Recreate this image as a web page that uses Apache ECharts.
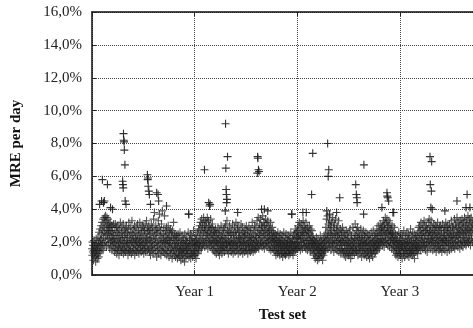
<!DOCTYPE html>
<html>
<head>
<meta charset="utf-8">
<script src="https://cdn.jsdelivr.net/npm/echarts@6/dist/echarts.min.js"></script>
<style>
  html, body { margin: 0; padding: 0; background: #fff; }
  #main { width: 473px; height: 328px; }
</style>
</head>
<body>
<div id="main"></div>
<script>
// MRE per day (%), one value per day of the test set
var year1 = [
  1.6,1.2,2.0,1.4,1.8,0.9,1.5,2.1,1.3,1.7,1.1,1.9,1.4,0.8,1.6,2.2,1.2,1.8,1.5,1.0,
  1.7,2.3,1.3,1.9,1.1,2.6,1.5,2.0,2.8,1.4,2.2,1.8,3.0,1.6,2.5,2.1,3.2,1.9,2.7,1.5,
  3.4,2.3,2.9,1.8,3.5,2.6,3.1,2.0,3.6,2.4,3.3,1.7,2.8,3.5,2.2,3.0,2.5,3.4,1.9,2.7,
  3.1,2.2,2.9,1.6,2.5,3.2,2.0,2.7,1.8,3.0,2.3,1.5,2.6,2.1,2.9,1.7,2.4,3.1,1.9,2.2,
  1.4,2.7,2.0,3.1,1.6,2.4,1.8,2.9,1.3,2.2,2.6,1.5,3.0,2.0,1.7,2.5,1.2,2.8,1.9,2.3,
  1.5,3.2,2.1,1.7,2.6,1.4,2.9,2.2,1.6,2.4,1.8,3.1,1.3,2.0,2.7,1.5,2.3,1.9,2.8,1.4,
  2.5,1.7,3.0,2.1,1.5,2.6,1.9,2.3,1.2,2.8,1.6,3.2,2.0,1.4,2.4,1.8,2.9,1.5,2.2,2.6,
  1.3,2.0,3.3,1.7,2.5,1.4,2.1,2.8,1.6,2.3,1.9,3.0,1.2,2.6,1.8,2.2,1.5,2.9,2.0,1.4,
  2.4,1.7,3.1,2.2,1.5,2.7,1.9,1.3,2.5,2.0,3.2,1.6,2.3,1.8,2.8,1.4,2.1,2.6,1.7,3.0,
  1.5,2.2,1.9,2.9,1.3,2.4,1.8,2.7,1.6,3.1,2.0,1.4,2.5,2.2,3.3,1.7,2.0,2.8,1.5,2.3,
  2.7,1.6,3.0,2.1,1.4,2.5,1.9,2.8,1.2,2.3,1.7,3.1,2.0,1.5,2.6,1.8,2.9,1.3,2.2,3.4,
  1.6,2.4,3.8,1.9,2.7,1.4,2.2,3.0,1.7,2.5,1.1,2.8,2.0,1.5,2.6,1.8,3.3,1.3,2.1,2.9,
  3.7,1.6,2.4,1.9,2.7,1.2,2.3,3.1,1.5,2.0,3.9,1.7,2.5,1.4,2.2,2.8,1.6,2.0,3.6,1.3,
  2.4,1.9,2.7,1.5,2.1,2.9,1.2,2.5,1.8,2.2,1.4,3.0,1.7,2.3,1.1,2.6,1.9,2.1,1.5,2.8,
  1.3,2.0,2.6,1.6,2.3,1.0,2.7,1.8,1.4,2.2,3.2,1.5,2.4,1.2,1.9,2.5,1.7,1.1,2.1,1.6,
  2.4,1.3,1.9,2.2,1.0,1.7,2.5,1.4,2.0,1.2,2.3,1.6,1.1,2.6,1.5,1.8,0.9,2.1,1.4,1.9,
  1.2,2.4,1.6,1.0,2.0,1.5,2.2,1.3,1.8,0.8,2.5,1.4,1.7,2.1,1.1,1.9,1.5,2.3,1.2,1.6,
  2.0,1.3,2.6,1.7,3.7,1.1,1.9,2.2,1.4,1.8,2.5,1.0,1.6,2.1,1.3,2.4,1.5,1.9,1.1,2.2,1.4,2.7,1.8,1.2,2.0
];
var year2 = [
  1.5,2.1,1.2,1.8,2.4,1.0,1.7,2.2,1.4,1.9,2.6,1.3,2.0,1.6,2.8,1.5,2.3,1.9,3.0,1.7,
  2.5,3.2,2.0,2.7,1.6,3.4,2.2,2.9,1.8,3.1,2.4,1.9,3.5,2.6,2.1,3.0,1.7,2.8,3.3,2.2,
  2.7,1.8,3.2,2.4,2.0,3.5,2.5,1.6,2.9,3.3,2.1,2.6,1.9,3.0,2.3,1.7,2.8,3.4,2.0,2.5,
  1.8,2.9,2.2,3.1,1.6,2.4,2.0,2.7,1.5,2.3,1.9,2.6,1.4,2.1,2.8,1.7,2.4,1.3,2.0,2.6,
  1.6,2.2,1.9,2.9,1.4,2.5,1.8,2.1,1.2,2.7,1.6,2.3,2.0,1.5,3.0,1.8,2.4,1.3,2.2,1.7,
  2.6,1.5,2.0,2.8,1.7,2.3,1.4,2.9,1.9,2.2,3.1,1.6,2.5,1.8,2.0,3.3,1.5,2.7,1.9,2.4,
  1.3,2.1,2.6,1.7,3.0,2.0,1.5,2.4,1.8,2.8,1.4,2.2,1.9,2.6,1.6,3.1,2.0,1.3,2.5,1.8,
  2.3,1.6,2.9,2.1,1.4,2.6,1.9,3.2,1.7,2.4,1.5,2.0,2.8,1.8,3.0,1.3,2.2,2.6,1.6,2.3,
  1.9,2.7,1.4,2.2,1.7,3.1,2.0,1.5,2.5,1.8,2.9,1.3,2.3,2.0,1.6,2.6,1.9,2.4,1.4,2.8,
  2.1,1.6,2.5,1.8,3.0,1.5,2.2,1.9,2.7,1.3,2.4,2.0,1.7,2.9,1.5,2.3,1.8,2.6,1.4,2.1,
  2.8,1.7,2.3,1.5,2.0,3.2,1.8,2.5,1.4,2.2,1.9,2.7,1.6,3.0,2.1,1.5,2.4,1.8,2.9,1.6,
  2.3,2.0,3.3,1.7,2.6,1.9,3.5,2.2,1.6,2.8,2.4,3.1,1.8,2.5,2.0,3.4,2.7,1.9,3.0,2.3,
  1.7,2.9,3.6,2.1,2.6,1.8,3.2,2.4,1.6,3.0,2.2,2.7,3.4,1.9,2.5,2.0,3.1,1.7,2.8,2.3,
  3.3,1.9,2.6,2.1,3.0,1.6,2.4,2.8,1.8,2.2,3.2,1.5,2.7,2.0,2.5,1.7,2.9,2.2,1.6,2.4,
  2.0,2.6,1.5,2.3,1.8,2.1,1.4,2.5,1.9,1.2,2.2,1.7,2.4,1.5,2.0,1.3,2.6,1.8,1.6,2.1,
  1.4,2.3,1.9,1.2,2.5,1.7,2.0,1.5,2.2,1.3,1.8,2.4,1.6,1.1,2.1,1.9,1.4,2.6,1.7,1.3,
  2.0,1.6,2.3,1.2,1.8,2.5,1.5,1.9,1.3,2.2,1.7,2.0,1.4,2.4,1.6,1.2,2.1,1.8,1.5,2.3,
  1.3,1.9,2.6,1.5,2.0,1.7,3.7,1.4,2.2,1.8,1.2,2.4,1.6,2.0,1.4,2.5,1.9,1.7,2.8,1.5,2.2,1.9,2.6,1.6,2.3
];
var year3 = [
  2.0,2.7,1.6,3.0,2.3,1.8,2.5,3.2,1.7,2.2,2.9,1.5,2.4,2.0,3.1,1.8,2.6,2.2,1.6,2.8,
  2.4,3.3,1.9,2.6,2.1,3.0,1.7,2.5,2.0,2.8,1.6,3.2,2.3,1.8,2.7,2.1,1.5,2.9,2.4,1.9,
  2.6,1.7,2.2,3.0,1.8,2.5,1.4,2.1,2.8,1.6,2.3,1.9,2.7,1.5,2.0,2.4,1.7,2.2,1.3,1.9,
  1.6,2.1,1.2,1.8,1.0,2.0,1.4,1.7,2.3,1.1,1.5,1.9,0.9,1.6,2.2,1.3,1.8,1.0,1.5,2.0,
  1.2,1.7,2.4,1.4,1.9,1.1,1.6,2.1,1.3,1.8,0.9,1.5,2.2,1.2,1.9,1.6,2.3,1.4,2.0,1.7,
  2.5,1.5,2.9,2.1,3.4,1.8,2.6,2.2,3.6,1.6,2.4,3.1,2.0,2.8,1.7,3.3,2.3,1.9,3.0,2.5,
  1.5,2.7,3.2,2.0,2.4,1.7,3.5,2.2,1.9,2.9,1.4,2.6,3.1,2.1,1.8,2.5,3.4,1.6,2.3,2.8,
  2.0,1.5,3.0,2.4,1.7,2.7,2.1,3.3,1.4,2.5,1.9,2.2,1.6,2.8,2.0,1.3,2.4,1.8,2.6,1.5,
  2.1,2.9,1.6,2.3,1.4,2.0,2.6,1.2,1.8,2.4,1.5,2.2,1.1,1.9,2.7,1.6,2.1,1.3,2.5,1.8,
  1.4,2.3,1.9,1.2,2.6,1.6,2.0,1.3,2.8,1.7,1.0,2.2,1.5,2.4,1.8,1.2,2.1,1.6,2.9,1.4,
  2.0,1.7,2.5,1.3,2.2,1.9,3.1,1.5,2.4,1.8,2.7,1.4,2.1,1.6,2.9,2.3,1.2,2.6,1.9,1.5,
  2.2,1.7,2.4,1.3,2.0,1.8,2.8,1.5,2.3,1.1,1.9,2.5,1.6,2.1,1.4,2.7,1.8,2.0,1.2,2.4,
  1.6,2.2,1.3,1.9,2.6,1.5,2.0,1.1,2.3,1.7,1.4,2.5,1.8,1.2,2.1,1.6,2.4,1.0,1.9,1.5,
  2.2,1.4,1.8,2.6,1.3,2.0,1.6,2.3,1.1,1.9,2.7,1.5,2.1,1.7,1.3,2.4,1.8,2.0,1.4,2.5,
  1.7,2.2,1.5,2.8,1.9,2.4,1.6,2.1,3.0,1.8,2.5,2.0,1.6,2.7,2.2,3.1,1.9,2.4,2.8,2.0,
  2.6,3.0,2.2,1.8,2.9,2.4,3.3,2.0,2.7,1.7,3.1,2.3,2.8,3.5,2.1,2.5,3.2,1.9,2.6,3.4,
  2.2,2.9,1.8,3.0,2.5,2.0,3.3,2.7,1.7,2.4,3.1,2.1,2.6,1.9,2.8,2.3,1.6,3.0,2.2,2.5,
  1.8,2.6,2.0,1.5,2.3,2.9,1.7,2.1,1.4,2.5,1.9,1.2,2.2,1.6,2.0,1.3,2.4,1.8,1.1,2.0,1.5,2.6,1.7,1.3,2.1
];
var year4 = [
  1.6,2.3,1.2,1.9,2.5,1.4,1.8,2.1,1.0,1.7,2.4,1.5,2.0,1.3,2.7,1.6,1.9,1.1,2.2,1.5,
  1.8,2.4,1.3,2.0,1.6,2.6,1.2,1.9,2.2,1.4,1.7,2.5,1.1,2.0,1.5,2.3,1.8,1.3,2.8,1.6,
  2.1,1.4,1.9,2.4,1.2,1.7,2.6,1.5,2.0,1.3,2.2,1.8,1.0,2.5,1.6,1.9,2.3,1.4,1.7,2.1,
  1.5,2.4,1.8,1.3,2.6,2.0,1.6,2.9,2.2,1.7,3.0,2.4,1.9,2.7,1.5,3.2,2.1,2.5,1.8,2.8,
  2.3,1.6,3.1,2.0,2.6,1.8,3.3,2.2,1.7,2.9,2.4,1.5,2.7,2.0,3.0,1.9,2.5,1.4,2.8,2.2,
  1.7,3.2,2.4,2.0,3.4,2.6,1.8,3.0,2.2,2.7,1.6,3.3,2.1,2.5,1.9,2.9,2.3,1.5,2.6,2.0,
  3.1,1.8,2.4,2.8,1.6,2.2,3.0,1.9,2.6,1.4,2.3,2.9,1.7,2.1,3.2,2.5,1.8,2.7,2.0,1.5,
  2.4,2.9,1.7,2.2,3.0,1.6,2.5,2.0,2.8,1.4,2.3,1.9,3.1,2.1,1.6,2.6,2.2,1.8,2.9,2.4,
  1.5,2.7,2.1,3.2,1.8,2.4,2.0,2.9,1.4,2.6,3.0,1.9,2.3,1.7,2.8,2.2,1.5,3.1,2.5,2.0,
  2.7,1.8,2.3,3.3,1.6,2.5,2.1,2.9,1.9,3.0,2.4,1.7,2.8,2.2,3.4,1.6,2.6,2.0,3.1,2.3,
  1.8,2.9,2.4,3.5,2.0,2.6,1.7,3.2,2.3,2.8,1.9,3.0,2.5,1.6,3.3,2.2,2.7,2.0,3.1,1.8,
  2.6,3.4,2.1,2.9,1.7,2.5,3.2,2.3,2.8,1.9,3.5,2.4,2.0,3.0,2.6,1.8,3.3,2.2,2.7,3.1,
  2.0,2.8,3.6,2.3,1.9,3.0,2.5,3.4,2.1,2.7,3.2,1.8,2.6,3.5,2.2,2.9,2.4,3.1,2.0,2.8,3.3
];

// isolated high days (day index, MRE %)
var peakDays = [27,34,37,41,44,55,66,73,109,110,111,112,113,114,115,117,118,121,
  197,198,199,200,202,204,208,230,235,237,265,344,400,415,418,420,
  474,475,476,477,478,479,480,482,518,588,589,590,592,594,603,613,625,
  710,750,762,781,785,835,838,840,842,845,870,881,938,940,942,943,966,967,
  1031,1049,1050,1052,1055,1070,1073,1202,1203,1205,1207,1208,1210,1255,1298,1330,1334,1344];
var peakValues = [4.3,4.5,5.8,4.4,4.5,5.5,4.1,4.0,5.7,5.5,5.3,8.6,8.2,8.1,7.6,6.7,4.5,4.3,
  6.1,5.8,5.9,5.4,5.1,4.9,4.3,5.0,4.9,4.5,4.2,3.7,6.4,4.4,4.2,4.3,
  3.9,9.2,6.5,5.2,4.9,4.4,4.6,7.2,3.8,6.2,7.2,7.1,6.4,6.3,4.0,4.0,3.9,
  3.7,3.8,3.8,4.9,7.4,3.9,8.0,6.0,6.4,3.7,3.8,4.7,5.5,4.9,4.7,4.4,3.7,6.7,
  4.1,5.0,4.8,4.7,4.5,3.8,3.8,7.2,5.5,4.1,5.1,6.9,4.0,3.9,4.5,4.1,4.9,4.1];

var yTicks = [0, 2, 4, 6, 8, 10, 12, 14, 16];
var yearLength = 365;
var lastDay = 1355;

var daily = year1.concat(year2, year3, year4).map(function (v, i) { return [i, v]; });
var peaks = peakDays.map(function (d, i) { return [d, peakValues[i]]; });

var plus = 'path://M4.3,0H5.7V4.3H10V5.7H5.7V10H4.3V5.7H0V4.3H4.3Z';
var serif = 'Liberation Serif';

var myChart = echarts.init(document.getElementById('main'));
var option = {
  animation: false,
  grid: { left: 92, right: 0, top: 12, bottom: 50 },
  xAxis: [
    {
      type: 'value',
      min: 0,
      max: lastDay,
      interval: yearLength,
      name: 'Test set',
      nameLocation: 'middle',
      nameGap: 33,
      nameTextStyle: { fontFamily: serif, fontSize: 15, fontWeight: 'bold', color: '#111' },
      axisLine: { lineStyle: { color: '#333', width: 2 } },
      axisTick: { inside: true, length: 4, lineStyle: { color: '#222' } },
      axisLabel: {
        fontFamily: serif, fontSize: 15, color: '#222', margin: 10,
        showMaxLabel: false,
        formatter: function (v) { return v === 0 ? '' : 'Year ' + Math.round(v / yearLength); }
      },
      splitLine: { show: true, lineStyle: { type: 'dotted', color: '#444', width: 1 } }
    },
    {
      type: 'value',
      position: 'top',
      min: 0,
      max: lastDay,
      interval: yearLength,
      axisLine: { lineStyle: { color: '#111', width: 1.5 } },
      axisTick: { inside: true, length: 4, lineStyle: { color: '#222' } },
      axisLabel: { show: false },
      splitLine: { show: false }
    }
  ],
  yAxis: {
    type: 'value',
    min: yTicks[0],
    max: yTicks[yTicks.length - 1],
    interval: 2,
    name: 'MRE per day',
    nameLocation: 'middle',
    nameGap: 68,
    nameTextStyle: { fontFamily: serif, fontSize: 15, fontWeight: 'bold', color: '#111' },
    axisLine: { show: true, lineStyle: { color: '#111', width: 1.5 } },
    axisTick: { inside: true, length: 4, lineStyle: { color: '#222' } },
    axisLabel: {
      fontFamily: serif, fontSize: 15, color: '#222', margin: 10,
      formatter: function (v) { return v.toFixed(1).replace('.', ',') + '%'; }
    },
    splitLine: { show: true, lineStyle: { type: 'dotted', color: '#444', width: 1 } }
  },
  series: [
    {
      type: 'scatter',
      data: daily,
      symbol: plus,
      symbolSize: 8,
      itemStyle: { color: '#1e1e1e', opacity: 0.75 }
    },
    {
      type: 'scatter',
      data: peaks,
      symbol: plus,
      symbolSize: 8,
      itemStyle: { color: '#1c1c1c', opacity: 0.9 }
    }
  ]
};
myChart.setOption(option);
</script>
</body>
</html>
